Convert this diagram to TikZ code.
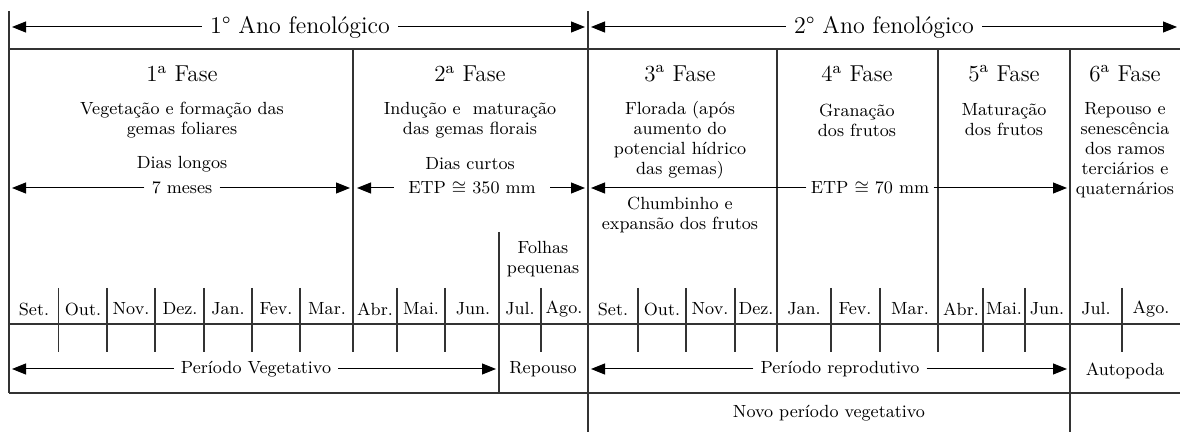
\documentclass[tikz,border=0pt]{standalone}
\usetikzlibrary{arrows.meta}
\begin{document}
\begin{tikzpicture}[x=0.5pt,y=-0.5pt]
		% Estilos
		\tikzstyle{traco}=[line width=0.6pt,black!80]
		\tikzstyle{seta}=[->,>={Triangle[length=7pt,width=5.5pt]},line width=0.5pt]
		\tikzstyle{titulo}=[font=\fontsize{12}{14}\selectfont,inner xsep=4pt,inner ysep=1pt]
		\tikzstyle{fase}=[font=\fontsize{11.5}{13}\selectfont]
		\tikzstyle{texto}=[font=\fontsize{8.8}{10}\selectfont,align=center,inner sep=1pt]
		\tikzstyle{rotulo}=[texto,inner xsep=3.5pt,inner ysep=0.5pt]
		\tikzstyle{mes}=[font=\fontsize{8.8}{10}\selectfont]
		% Linhas (coordenadas y)
		\def\LinhaAno{27}
		\def\LinhaTopo{49}
		\def\LinhaFase{74}
		\def\LinhaDias{164}
		\def\LinhaSeta{188}
		\def\LinhaMeses{309}
		\def\LinhaMes{324}
		\def\LinhaPeriodo{369}
		\def\LinhaBase{393}
		\useasboundingbox (0,0) rectangle (1180,432);
		% Quadro
		\draw[traco] (9,\LinhaTopo) -- (1180,\LinhaTopo);
		\draw[traco] (9,\LinhaMes) -- (1180,\LinhaMes);
		\draw[traco] (9,\LinhaBase) -- (1180,\LinhaBase);
		\draw[traco] (9,11) -- (9,\LinhaBase);
		\draw[traco] (588,11) -- (588,432);
		\draw[traco] (353,\LinhaTopo) -- (353,352);
		\draw[traco] (777,\LinhaTopo) -- (777,352);
		\draw[traco] (938,\LinhaTopo) -- (938,352);
		\draw[traco] (1070,\LinhaTopo) -- (1070,432);
		\draw[traco] (499,232) -- (499,\LinhaBase);
		% Divisões dos meses
		\draw[traco] (58.5,288) -- (58.5,352);
		\draw[traco] (107,288) -- (107,352);
		\draw[traco] (155,288) -- (155,352);
		\draw[traco] (204,288) -- (204,352);
		\draw[traco] (252,288) -- (252,352);
		\draw[traco] (300,288) -- (300,352);
		\draw[traco] (397,288) -- (397,352);
		\draw[traco] (445,288) -- (445,352);
		\draw[traco] (541,288) -- (541,352);
		\draw[traco] (638,288) -- (638,352);
		\draw[traco] (686,288) -- (686,352);
		\draw[traco] (735,288) -- (735,352);
		\draw[traco] (831,288) -- (831,352);
		\draw[traco] (880,288) -- (880,352);
		\draw[traco] (983,288) -- (983,352);
		\draw[traco] (1025,288) -- (1025,352);
		\draw[traco] (1122,288) -- (1122,352);
		% Nós : anos
		\node[titulo] (ano1) at (300,\LinhaAno) {1° Ano fenológico};
		\node[titulo] (ano2) at (884,\LinhaAno) {2° Ano fenológico};
		\coordinate (ano1E) at (12,\LinhaAno);
		\coordinate (ano1D) at (585,\LinhaAno);
		\coordinate (ano2E) at (591,\LinhaAno);
		\coordinate (ano2D) at (1177,\LinhaAno);
		% Nós : fases
		\node[fase] (fase1) at (182,\LinhaFase) {1\textsuperscript{a} Fase};
		\node[fase] (fase2) at (470,\LinhaFase) {2\textsuperscript{a} Fase};
		\node[fase] (fase3) at (680,\LinhaFase) {3\textsuperscript{a} Fase};
		\node[fase] (fase4) at (857,\LinhaFase) {4\textsuperscript{a} Fase};
		\node[fase] (fase5) at (1004,\LinhaFase) {5\textsuperscript{a} Fase};
		\node[fase] (fase6) at (1125,\LinhaFase) {6\textsuperscript{a} Fase};
		%
		\node[texto] (desc1) at (182,120) {Vegetação e formação das\\gemas foliares};
		\node[texto] (desc2) at (470,120) {Indução e~ maturação\\das gemas florais};
		\node[texto] (desc3) at (680,140) {Florada (após\\aumento do\\potencial hídrico\\das gemas)};
		\node[texto] (desc4) at (857,120) {Granação\\dos frutos};
		\node[texto] (desc5) at (1004,120) {Maturação\\dos frutos};
		\node[texto] (desc6) at (1125,150) {Repouso e\\senescência\\dos ramos\\terciários e\\quaternários};
		\node[texto] (chumbinho) at (680,215) {Chumbinho e\\expansão dos frutos};
		%
		\node[texto] (dias1) at (182,\LinhaDias) {Dias longos};
		\node[rotulo] (meses) at (182,\LinhaSeta) {7 meses};
		\node[texto] (dias2) at (470,\LinhaDias) {Dias curtos};
		\node[rotulo,inner xsep=7pt] (etp1) at (472,\LinhaSeta) {ETP $\cong$ 350 mm};
		\node[rotulo,inner xsep=2pt] (etp2) at (870,\LinhaSeta) {ETP $\cong$ 70 mm};
		\coordinate (meses1E) at (12,\LinhaSeta);
		\coordinate (meses1D) at (350,\LinhaSeta);
		\coordinate (etp1E) at (357,\LinhaSeta);
		\coordinate (etp1D) at (585,\LinhaSeta);
		\coordinate (etp2E) at (591,\LinhaSeta);
		\coordinate (etp2D) at (1067,\LinhaSeta);
		\node[texto] (folhas) at (543,259) {Folhas\\pequenas};
		% Nós : meses
		\node[mes] (set1) at (34,\LinhaMeses) {Set.};
		\node[mes] (out1) at (83,\LinhaMeses) {Out.};
		\node[mes] (nov1) at (131,\LinhaMeses) {Nov.};
		\node[mes] (dez1) at (180,\LinhaMeses) {Dez.};
		\node[mes] (jan1) at (228,\LinhaMeses) {Jan.};
		\node[mes] (fev1) at (276,\LinhaMeses) {Fev.};
		\node[mes] (mar1) at (327,\LinhaMeses) {Mar.};
		\node[mes] (abr1) at (375,\LinhaMeses) {Abr.};
		\node[mes] (mai1) at (421,\LinhaMeses) {Mai.};
		\node[mes] (jun1) at (473,\LinhaMeses) {Jun.};
		\node[mes] (jul1) at (520,\LinhaMeses) {Jul.};
		\node[mes] (ago1) at (564,\LinhaMeses) {Ago.};
		\node[mes] (set2) at (613,\LinhaMeses) {Set.};
		\node[mes] (out2) at (662,\LinhaMeses) {Out.};
		\node[mes] (nov2) at (710,\LinhaMeses) {Nov.};
		\node[mes] (dez2) at (756,\LinhaMeses) {Dez.};
		\node[mes] (jan2) at (804,\LinhaMeses) {Jan.};
		\node[mes] (fev2) at (855,\LinhaMeses) {Fev.};
		\node[mes] (mar2) at (910,\LinhaMeses) {Mar.};
		\node[mes] (abr2) at (961,\LinhaMeses) {Abr.};
		\node[mes] (mai2) at (1004,\LinhaMeses) {Mai.};
		\node[mes] (jun2) at (1047,\LinhaMeses) {Jun.};
		\node[mes] (jul2) at (1096,\LinhaMeses) {Jul.};
		\node[mes] (ago2) at (1151,\LinhaMeses) {Ago.};
		% Nós : períodos
		\node[rotulo] (vegetativo) at (256,\LinhaPeriodo) {Período Vegetativo};
		\node[texto] (repouso) at (543,\LinhaPeriodo) {Repouso};
		\node[rotulo] (reprodutivo) at (840,\LinhaPeriodo) {Período reprodutivo};
		\node[texto] (autopoda) at (1125,371) {Autopoda};
		\node[texto] (novo) at (829,413) {Novo período vegetativo};
		\coordinate (vegE) at (12,\LinhaPeriodo);
		\coordinate (vegD) at (496,\LinhaPeriodo);
		\coordinate (repE) at (591,\LinhaPeriodo);
		\coordinate (repD) at (1067,\LinhaPeriodo);
		% Setas
		\draw[seta] (ano1) -- (ano1E);
		\draw[seta] (ano1) -- (ano1D);
		\draw[seta] (ano2) -- (ano2E);
		\draw[seta] (ano2) -- (ano2D);
		\draw[seta] (meses) -- (meses1E);
		\draw[seta] (meses) -- (meses1D);
		\draw[seta] (etp1) -- (etp1E);
		\draw[seta] (etp1) -- (etp1D);
		\draw[seta] (etp2) -- (etp2E);
		\draw[seta] (etp2) -- (etp2D);
		\draw[seta] (vegetativo) -- (vegE);
		\draw[seta] (vegetativo) -- (vegD);
		\draw[seta] (reprodutivo) -- (repE);
		\draw[seta] (reprodutivo) -- (repD);
	\end{tikzpicture}
\end{document}
